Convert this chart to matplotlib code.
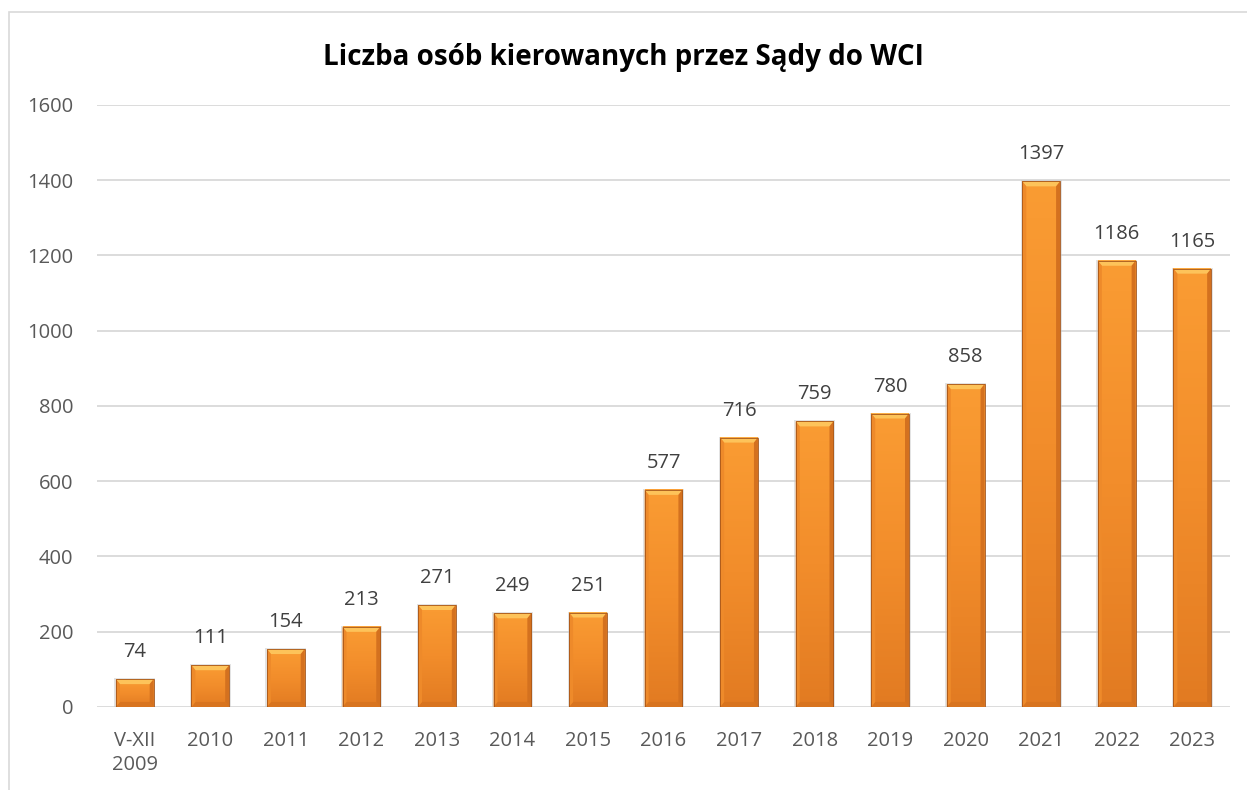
import numpy as np
import matplotlib.pyplot as plt
from matplotlib.patches import Polygon, Rectangle
from matplotlib.colors import LinearSegmentedColormap

categories = ["V-XII\n2009", "2010", "2011", "2012", "2013", "2014", "2015", "2016",
              "2017", "2018", "2019", "2020", "2021", "2022", "2023"]
values = [74, 111, 154, 213, 271, 249, 251, 577, 716, 759, 780, 858, 1397, 1186, 1165]
yticks = [0, 200, 400, 600, 800, 1000, 1200, 1400, 1600]
title = "Liczba osób kierowanych przez Sądy do WCI"

plt.rcParams["font.family"] = ["Open Sans", "DejaVu Sans"]

fig = plt.figure(figsize=(12.47, 7.90), dpi=100)
ax = fig.add_axes([0.0778, 0.1051, 0.9086, 0.762])

# outer chart border
fig.add_artist(Rectangle((9 / 1247, -0.05), 1.2, 1 - 12 / 790 + 0.05,
                         transform=fig.transFigure, fill=False,
                         edgecolor="#d9d9d9", linewidth=1.2))

ax.set_xlim(-0.5, len(values) - 0.5)
ax.set_ylim(0, 1600)
ax.set_yticks(yticks)
ax.set_yticklabels([str(t) for t in yticks])
ax.set_xticks(range(len(values)))
ax.set_xticklabels(categories, linespacing=1.3)
ax.tick_params(length=0, labelsize=14.5, labelcolor="#595959", pad=17)
ax.tick_params(axis="y", pad=17)
for s in ax.spines.values():
    s.set_visible(False)
ax.grid(axis="y", color="#d9d9d9", linewidth=1.3)
ax.set_axisbelow(True)

face = LinearSegmentedColormap.from_list("face", ["#e27b22", "#f28d2b", "#fa9c33"])
width = 0.5
px_x = 1133 / len(values)
px_y = 602 / 1600
bx = 4 / px_x
by = 5 / px_y

for i, v in enumerate(values):
    x0, x1 = i - width / 2, i + width / 2
    # soft shadow
    ax.add_patch(Rectangle((x0 - 1.5 / px_x, 0), width + 3 / px_x, v + 1 / px_y,
                           facecolor="#c8c8c8", edgecolor="none", alpha=0.5, zorder=1.5))
    grad = np.linspace(0, 1, 100).reshape(-1, 1)
    ax.imshow(grad, extent=(x0, x1, 0, v), origin="lower", aspect="auto",
              cmap=face, zorder=2)
    b = min(by, v / 2)
    bxx = min(bx, width / 2)
    # top bevel
    ax.add_patch(Polygon([(x0, v), (x1, v), (x1 - bxx, v - b), (x0 + bxx, v - b)],
                         closed=True, facecolor="#fdc35a", edgecolor="none", zorder=3))
    # bottom bevel
    ax.add_patch(Polygon([(x0, 0), (x1, 0), (x1 - bxx, b), (x0 + bxx, b)],
                         closed=True, facecolor="#d8741f", edgecolor="none", zorder=3))
    # left bevel
    ax.add_patch(Polygon([(x0, 0), (x0 + bxx, b), (x0 + bxx, v - b), (x0, v)],
                         closed=True, facecolor="#ee8a2a", edgecolor="none", zorder=3))
    # right bevel
    ax.add_patch(Polygon([(x1, 0), (x1 - bxx, b), (x1 - bxx, v - b), (x1, v)],
                         closed=True, facecolor="#d4711f", edgecolor="none", zorder=3))
    ax.add_patch(Rectangle((x0, 0), width, v, fill=False, edgecolor="#a65519",
                           linewidth=0.6, zorder=4))
    ax.text(i, v + 27 / px_y, str(v), ha="center", va="center", fontsize=14.5,
            color="#404040", zorder=5)

fig.text(0.5, 1 - 57 / 790, title, ha="center", va="center", fontsize=20,
         fontweight="bold", color="#000000")

fig.savefig("out.png", dpi=100)
